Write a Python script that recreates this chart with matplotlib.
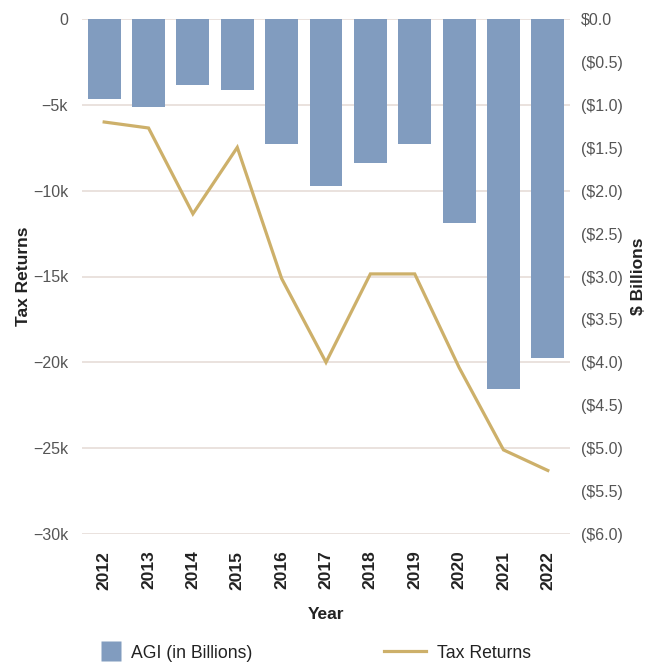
import numpy as np
import matplotlib.pyplot as plt
from matplotlib.ticker import FuncFormatter, MultipleLocator
from matplotlib.lines import Line2D

plt.rcParams['font.family'] = ['Liberation Sans', 'DejaVu Sans']

years = ['2012', '2013', '2014', '2015', '2016', '2017',
         '2018', '2019', '2020', '2021', '2022']
agi_billions = [-0.93, -1.02, -0.77, -0.83, -1.46, -1.95,
                -1.68, -1.46, -2.38, -4.31, -3.95]
tax_returns = [-6000, -6350, -11350, -7480, -15120, -20000,
               -14850, -14850, -20300, -25100, -26300]

bar_color = '#819cbf'
line_color = '#cdb06a'
grid_color = '#e6ddd8'
tick_color = '#555555'

fig = plt.figure(figsize=(6.52, 6.62), dpi=100)
ax = fig.add_axes([82/652, 1-534/662, 488/652, 515/662])
ax2 = ax.twinx()

x = np.arange(len(years))

# line on the left axis (behind), bars on the right axis (front)
ax.plot(x, tax_returns, color=line_color, lw=2.3, solid_joinstyle='miter')
ax2.bar(x, agi_billions, width=0.74, color=bar_color)

ax.set_xlim(-0.5, len(years)-0.5)
ax.set_ylim(-30000, 0)
ax2.set_ylim(-6, 0)

ax.yaxis.set_major_locator(MultipleLocator(5000))
ax2.yaxis.set_major_locator(MultipleLocator(0.5))


def k_fmt(v, pos):
    if v == 0:
        return '0'
    return '\u2212%dk' % abs(round(v/1000))


def money_fmt(v, pos):
    if abs(v) < 1e-9:
        return '$0.0'
    return '($%.1f)' % abs(v)


ax.yaxis.set_major_formatter(FuncFormatter(k_fmt))
ax2.yaxis.set_major_formatter(FuncFormatter(money_fmt))

ax.set_xticks(x)
ax.set_xticklabels(years, rotation=90, fontsize=12.5, fontweight='bold', color='#222222')
ax.tick_params(axis='x', length=0, pad=12)
ax.tick_params(axis='y', length=0, pad=10, labelsize=11.5, labelcolor=tick_color)
ax2.tick_params(axis='y', length=0, pad=8, labelsize=11.5, labelcolor=tick_color)

ax.yaxis.grid(True, color=grid_color, lw=1.2)
ax.set_axisbelow(True)

for a in (ax, ax2):
    for s in a.spines.values():
        s.set_visible(False)

ax.set_ylabel('Tax Returns', fontsize=12.5, fontweight='bold', color='#222222')
ax.yaxis.set_label_coords(-0.105, 0.5)
ax2.set_ylabel('$ Billions', fontsize=12.5, fontweight='bold', color='#222222')
ax2.yaxis.set_label_coords(1.125, 0.5)
ax.set_xlabel('Year', fontsize=12.5, fontweight='bold', color='#222222')
ax.xaxis.set_label_coords(0.5, -0.142)

h1 = Line2D([], [], marker='s', linestyle='none', markersize=14,
            markerfacecolor=bar_color, markeredgecolor='none')
h2 = Line2D([], [], color=line_color, lw=2.3)
fig.legend([h1], ['AGI (in Billions)'], loc='center left',
           bbox_to_anchor=(98/652, 1-653/662), frameon=False, fontsize=12.7,
           handlelength=1.5, handletextpad=0.35, borderpad=0, borderaxespad=0,
           labelcolor='#222222')
fig.legend([h2], ['Tax Returns'], loc='center left',
           bbox_to_anchor=(384/652, 1-653/662), frameon=False, fontsize=12.7,
           handlelength=2.4, handletextpad=0.6, borderpad=0, borderaxespad=0,
           labelcolor='#222222')

fig.savefig('out.png', dpi=100)
